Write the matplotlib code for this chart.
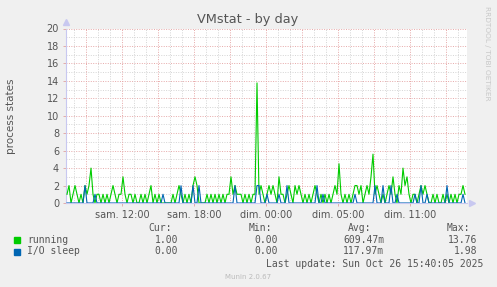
import matplotlib
matplotlib.use('Agg')
import matplotlib.pyplot as plt
from matplotlib.patches import Rectangle
import numpy as np

# samples every 10 minutes, starting sat. 07:20
running = [1, 2, 0, 1, 2, 1, 0, 1, 0, 2, 1, 2, 4, 1, 0, 1, 1, 0, 1, 0,
           1, 0, 1, 2, 1, 0, 1, 1, 3, 1, 0, 1, 1, 0, 1, 0, 0, 1, 0, 1,
           0, 1, 2, 0, 1, 0, 1, 0, 0, 0, 0, 0, 0, 1, 0, 1, 2, 1, 0, 1,
           0, 1, 0, 2, 3, 2, 0, 0, 0, 0, 1, 0, 1, 0, 1, 0, 1, 0, 1, 0,
           1, 1, 3, 1, 2, 1, 1, 1, 0, 1, 0, 1, 0, 1, 1, 13.76, 1, 2, 1, 0,
           1, 2, 1, 2, 1, 0, 3, 1, 1, 0, 1, 2, 1, 0, 2, 1, 2, 1, 0, 1,
           0, 1, 0, 1, 2, 1, 0, 1, 0, 1, 0, 1, 0, 1, 2, 1, 4.5, 1, 0, 1,
           0, 1, 0, 1, 2, 2, 1, 2, 0, 1, 2, 1, 3, 5.6, 1, 2, 1, 0, 1, 0,
           1, 2, 1, 3, 1, 0, 2, 1, 4, 2, 3, 1, 0, 1, 1, 0, 1, 2, 1, 2,
           1, 0, 0, 1, 0, 1, 0, 0, 1, 0, 1, 0, 1, 0, 1, 0, 1, 1, 2, 1]
io_sleep = [0, 0, 0, 0, 0, 0, 0, 0, 0, 2, 0, 0, 0, 0, 1, 0, 0, 0, 0, 0,
            0, 0, 0, 0, 0, 0, 0, 0, 0, 0, 0, 0, 0, 0, 0, 0, 0, 0, 0, 0,
            0, 0, 0, 0, 0, 0, 0, 0, 1, 0, 0, 0, 0, 0, 0, 0, 0, 1.98, 0, 0,
            0, 0, 0, 2, 0, 0, 2, 0, 0, 0, 0, 0, 0, 0, 0, 0, 0, 0, 0, 0,
            0, 0, 0, 0, 2, 0, 0, 0, 0, 0, 0, 0, 0, 0, 0, 2, 2, 0, 0, 0,
            1, 0, 0, 0, 0, 0, 1, 0, 0, 0, 2, 0, 0, 0, 0, 0, 0, 0, 0, 0,
            0, 0, 0, 0, 0, 2, 0, 0, 1, 0, 0, 0, 0, 0, 0, 0, 0, 0, 0, 0,
            0, 0, 0, 0, 1, 0, 0, 0, 0, 0, 0, 0, 0, 0, 2, 0, 0, 0, 2, 0,
            0, 0, 2, 0, 0, 1, 0, 0, 0, 0, 0, 0, 0, 0, 1, 0, 0, 2, 0, 0,
            1, 0, 0, 0, 0, 0, 0, 0, 0, 0, 2, 0, 0, 0, 0, 0, 0, 0, 1, 0]

tick_labels = ['sam. 12:00', 'sam. 18:00', 'dim. 00:00', 'dim. 05:00', 'dim. 11:00']
legend_names = ['running', 'I/O sleep']
legend_cur = ['1.00', '0.00']
legend_min = ['0.00', '0.00']
legend_avg = ['609.47m', '117.97m']
legend_max = ['13.76', '1.98']
colors = ['#00CC00', '#0066B3']

step = 10 / 60.0
hours = np.arange(len(running)) * step + step / 2
span = 401 / 12.0
first_tick = 4 + 40 / 60.0

W, H = 497, 287
fig = plt.figure(figsize=(W / 100, H / 100), dpi=100, facecolor='#F0F0F0')
ax = fig.add_axes([66 / W, 84 / H, 401 / W, 174.5 / H])
ax.set_facecolor('white')

# grid
for v in range(1, 21):
    c = '#E6A8A8' if v % 2 == 0 else '#D4D4D4'
    ax.axhline(v, color=c, lw=0.7, ls=(0, (1, 1.5)), zorder=1)
for k in range(34):
    xv = first_tick - 4 + k
    if xv <= 0 or xv >= span:
        continue
    c = '#E6A8A8' if k % 3 == 1 else '#D4D4D4'
    ax.axvline(xv, color=c, lw=0.7, ls=(0, (1, 1.5)), zorder=1)

ax.plot(hours, running, color=colors[0], lw=0.8, zorder=3)
ax.plot(hours, io_sleep, color=colors[1], lw=0.8, zorder=4)

ax.set_xlim(0, span)
ax.set_ylim(0, 20)
ax.set_yticks(range(0, 21, 2))
ax.set_xticks([first_tick + 6 * k for k in range(len(tick_labels))])
ax.set_xticklabels(tick_labels)
ax.tick_params(labelsize=7, length=2, width=0.6, pad=3)
ax.tick_params(axis='x', colors='#E0A0A0', labelcolor='#555555')
ax.tick_params(axis='y', colors='#E0A0A0', labelcolor='#555555')
for s in ['top', 'right']:
    ax.spines[s].set_visible(False)
for s in ['left', 'bottom']:
    ax.spines[s].set_color('#C8C8F0')
    ax.spines[s].set_linewidth(0.8)
ax.plot([0], [1.035], marker='^', color='#C8C8F0', ms=4, transform=ax.transAxes, clip_on=False)
ax.plot([1.012], [0], marker='>', color='#C8C8F0', ms=4, transform=ax.transAxes, clip_on=False)

fig.text(11 / W, 1 - 116 / H, 'process states', rotation=90, ha='center', va='center',
         fontsize=7.5, color='#555555')
fig.text(248 / W, 1 - 19 / H, 'VMstat - by day', ha='center', va='center', fontsize=9.3, color='#555555')
fig.text(487 / W, 1 - 53 / H, 'RRDTOOL / TOBI OETIKER', rotation=270, ha='center', va='center',
         fontsize=5.3, color='#C8C8C8')

mono = 'DejaVu Sans Mono'
fs = 7
tc = '#555555'
for txt, xr in zip(['Cur:', 'Min:', 'Avg:', 'Max:'], [172, 272, 371, 470]):
    fig.text(xr / W, 1 - 228 / H, txt, ha='right', va='center', family=mono, fontsize=fs, color=tc)
for i, name in enumerate(legend_names):
    yc = 240 + 11.5 * i
    fig.add_artist(Rectangle((14 / W, 1 - (yc + 3) / H), 6 / W, 6 / H, color=colors[i],
                             transform=fig.transFigure))
    fig.text(27 / W, 1 - yc / H, name, ha='left', va='center', family=mono, fontsize=fs, color=tc)
    fig.text(178 / W, 1 - yc / H, legend_cur[i], ha='right', va='center', family=mono, fontsize=fs, color=tc)
    fig.text(278 / W, 1 - yc / H, legend_min[i], ha='right', va='center', family=mono, fontsize=fs, color=tc)
    fig.text(384 / W, 1 - yc / H, legend_avg[i], ha='right', va='center', family=mono, fontsize=fs, color=tc)
    fig.text(477 / W, 1 - yc / H, legend_max[i], ha='right', va='center', family=mono, fontsize=fs, color=tc)
fig.text(483 / W, 1 - 264 / H, 'Last update: Sun Oct 26 15:40:05 2025', ha='right', va='center',
         family=mono, fontsize=fs, color=tc)
fig.text(248 / W, 1 - 277 / H, 'Munin 2.0.67', ha='center', va='center', fontsize=5, color='#BBBBBB')

fig.savefig('out.png', dpi=100, facecolor=fig.get_facecolor())
